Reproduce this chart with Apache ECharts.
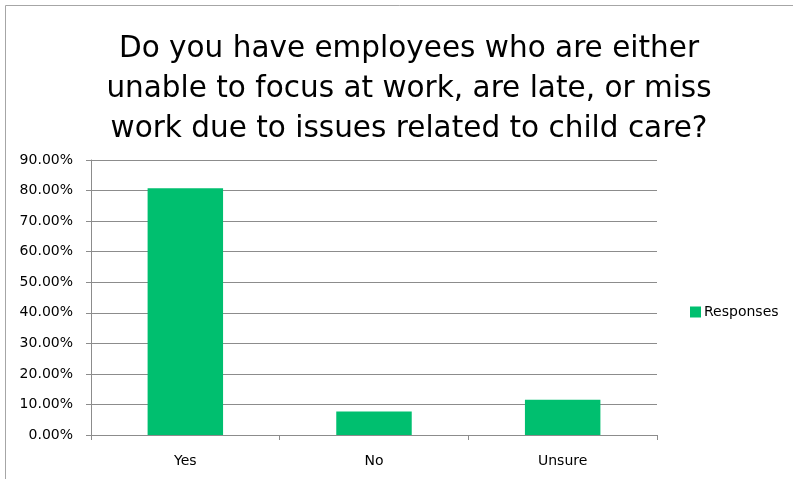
<!DOCTYPE html>
<html>
<head>
<meta charset="utf-8">
<script src="https://cdn.jsdelivr.net/npm/echarts@6/dist/echarts.min.js"></script>
<style>
html,body{margin:0;padding:0;background:#fff;}
#chart{width:793px;height:479px;}
</style>
</head>
<body>
<div id="chart"></div>
<script>
var titleText = 'Do you have employees who are either\nunable to focus at work, are late, or miss\nwork due to issues related to child care?';
var categories = ['Yes', 'No', 'Unsure'];
var seriesName = 'Responses';
var responses = [0.8077, 0.0769, 0.1154];
var yMin = 0, yMax = 0.9, yStep = 0.1;

var chart = echarts.init(document.getElementById('chart'), null, {renderer: 'canvas'});
chart.setOption({
  animation: false,
  backgroundColor: '#fff',
  graphic: [{
    type: 'rect',
    shape: {x: 5.5, y: 5.5, width: 1000, height: 1000},
    style: {fill: 'none', stroke: '#a6a6a6', lineWidth: 1},
    silent: true, z: -1
  }],
  title: {
    text: titleText,
    left: 404, top: 24,
    textAlign: 'center',
    textStyle: {fontFamily: 'DejaVu Sans', fontSize: 29.5, fontWeight: 'normal', color: '#000', lineHeight: 40}
  },
  legend: {
    data: [seriesName],
    orient: 'vertical',
    left: 685, top: 300,
    itemWidth: 11, itemHeight: 11,
    itemGap: 4,
    icon: 'rect',
    textStyle: {fontFamily: 'DejaVu Sans', fontSize: 14, color: '#000', padding: [0,0,0,-2]}
  },
  grid: {left: 91, right: 136, top: 160, bottom: 44, containLabel: false},
  xAxis: {
    type: 'category',
    data: categories,
    boundaryGap: true,
    axisLine: {lineStyle: {color: '#8c8c8c', width: 1}},
    axisTick: {show: true, length: 5, lineStyle: {color: '#8c8c8c'}},
    axisLabel: {fontFamily: 'DejaVu Sans', fontSize: 14, color: '#000', margin: 19}
  },
  yAxis: {
    type: 'value',
    min: yMin, max: yMax, interval: yStep,
    axisLine: {show: true, lineStyle: {color: '#8c8c8c', width: 1}},
    axisTick: {show: true, length: 5, lineStyle: {color: '#8c8c8c'}},
    splitLine: {show: true, lineStyle: {color: '#8c8c8c', width: 1}},
    axisLabel: {
      fontFamily: 'DejaVu Sans', fontSize: 14, color: '#000', margin: 18,
      formatter: function (v) { return (v * 100).toFixed(2) + '%'; }
    }
  },
  series: [{
    name: seriesName,
    type: 'bar',
    data: responses,
    barWidth: '40%',
    itemStyle: {color: '#00BF6F'}
  }]
});
</script>
</body>
</html>
